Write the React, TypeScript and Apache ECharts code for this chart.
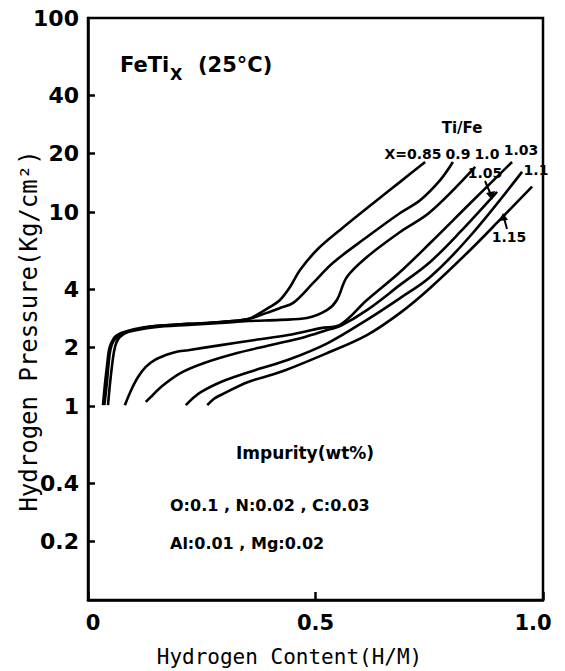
import React, { useEffect, useRef } from 'react';
import * as echarts from 'echarts';

// Hydrogen content (H/M) and pressure (kg/cm2) for each Ti/Fe ratio X
const h085 = [0.033, 0.037, 0.042, 0.046, 0.051, 0.059, 0.073, 0.088, 0.114, 0.147, 0.220, 0.292, 0.352, 0.371, 0.400, 0.422, 0.444, 0.466, 0.503, 0.554, 0.635, 0.686, 0.741];
const p085 = [1.01, 1.28, 1.63, 1.94, 2.11, 2.27, 2.38, 2.44, 2.52, 2.58, 2.65, 2.71, 2.81, 2.95, 3.24, 3.52, 4.11, 5.02, 6.37, 8.08, 11.5, 14.3, 18.1];

const h090 = [0.036, 0.041, 0.045, 0.049, 0.055, 0.064, 0.077, 0.092, 0.147, 0.220, 0.292, 0.352, 0.393, 0.422, 0.451, 0.495, 0.538, 0.613, 0.686, 0.730, 0.774, 0.802];
const p090 = [1.01, 1.28, 1.63, 1.94, 2.14, 2.27, 2.38, 2.44, 2.58, 2.65, 2.71, 2.81, 3.02, 3.20, 3.40, 4.31, 5.46, 7.43, 9.88, 11.5, 14.6, 18.1];

const h100 = [0.044, 0.048, 0.053, 0.057, 0.062, 0.070, 0.088, 0.147, 0.220, 0.292, 0.352, 0.422, 0.481, 0.525, 0.547, 0.569, 0.613, 0.686, 0.752, 0.851];
const p100 = [1.01, 1.28, 1.63, 1.90, 2.11, 2.27, 2.41, 2.55, 2.62, 2.68, 2.74, 2.78, 2.84, 3.12, 3.52, 4.62, 5.86, 7.89, 10.0, 17.1];

const h103 = [0.081, 0.095, 0.110, 0.127, 0.147, 0.171, 0.193, 0.220, 0.292, 0.367, 0.440, 0.512, 0.554, 0.613, 0.686, 0.752, 0.840, 0.932];
const p103 = [1.01, 1.21, 1.41, 1.59, 1.73, 1.83, 1.90, 1.94, 2.06, 2.19, 2.32, 2.52, 2.62, 3.52, 4.91, 6.92, 11.1, 18.1];

const h105 = [0.127, 0.141, 0.160, 0.204, 0.257, 0.330, 0.402, 0.477, 0.527, 0.554, 0.613, 0.686, 0.752, 0.818, 0.899];
const p105 = [1.05, 1.13, 1.25, 1.48, 1.67, 1.88, 2.06, 2.27, 2.47, 2.58, 3.12, 4.21, 5.53, 7.89, 12.7];

const h110 = [0.215, 0.231, 0.248, 0.292, 0.367, 0.440, 0.527, 0.613, 0.686, 0.752, 0.840, 0.954];
const p110 = [1.01, 1.10, 1.18, 1.33, 1.53, 1.73, 2.11, 2.78, 3.60, 4.62, 7.52, 16.1];

const h115 = [0.262, 0.277, 0.292, 0.352, 0.424, 0.527, 0.613, 0.686, 0.752, 0.840, 0.905, 0.976];
const p115 = [1.01, 1.09, 1.14, 1.33, 1.50, 1.88, 2.32, 3.02, 4.06, 6.37, 9.10, 13.5];

const curveNames = ['X=0.85', '0.9', '1.0', '1.03', '1.05', '1.1', '1.15'];
const curveH = [h085, h090, h100, h103, h105, h110, h115];
const curveP = [p085, p090, p100, p103, p105, p110, p115];

const yTickValues = [0.2, 0.4, 1, 2, 4, 10, 20, 40];
const yLabelValues = [0.2, 0.4, 1, 2, 4, 10, 20, 40, 100];
const xTickLabels = ['0', '0.5', '1.0'];

const FONT = "'DejaVu Sans', sans-serif";
const MONO = "'DejaVu Sans Mono', monospace";

function txt(text: string, x: number, y: number, size: number, align = 'center', extra: any = {}) {
  return {
    type: 'text',
    x,
    y,
    ...extra,
    style: {
      text,
      fill: '#000',
      font: `bold ${size}px ${FONT}`,
      align,
      verticalAlign: 'middle',
    },
  };
}

const labelRich = (pad: number[]) => ({
  color: '#000',
  fontFamily: FONT,
  fontWeight: 'bold',
  fontSize: 21,
  padding: pad,
});

export default function App() {
  const ref = useRef<HTMLDivElement>(null);

  useEffect(() => {
    if (!ref.current) return;
    const chart = echarts.init(ref.current, undefined, { renderer: 'svg' });

    const series = curveNames.map((name, i) => ({
      name,
      type: 'line',
      smooth: 0.35,
      showSymbol: false,
      lineStyle: { color: '#000', width: 2.6 },
      data: curveH[i].map((h, j) => [h, curveP[i][j]]),
    }));

    const option: any = {
      animation: false,
      backgroundColor: '#fff',
      grid: {
        left: 88,
        right: 22,
        top: 18,
        bottom: 71,
        containLabel: false,
        outerBoundsMode: 'none',
        show: true,
        borderColor: '#000',
        borderWidth: 2.5,
        backgroundColor: 'transparent',
      },
      xAxis: {
        type: 'value',
        min: 0,
        max: 1,
        interval: 0.5,
        axisLine: { show: true, lineStyle: { color: '#000', width: 2.5 } },
        axisTick: { show: true, inside: true, length: 8, lineStyle: { color: '#000', width: 2.5 } },
        axisLabel: {
          color: '#000',
          fontFamily: FONT,
          fontWeight: 'bold',
          fontSize: 21,
          margin: 12,
          formatter: (v: number) => {
            const i = Math.round(v / 0.5);
            const s = xTickLabels[i] ?? '';
            if (i === 0) return `{l|${s}}`;
            if (i === 2) return `{r|${s}}`;
            return s;
          },
          rich: {
            l: labelRich([0, 0, 0, 10]),
            r: labelRich([0, 20, 0, 0]),
          },
        },
        splitLine: { show: false },
        name: 'Hydrogen Content(H/M)',
        nameLocation: 'middle',
        nameGap: 46,
        nameMoveOverlap: false,
        nameTextStyle: {
          color: '#000',
          fontFamily: MONO,
          fontSize: 21,
          padding: [0, 52, 0, 0],
        },
      },
      yAxis: {
        type: 'log',
        logBase: 10,
        min: 0.1,
        max: 100,
        axisLine: { show: true, lineStyle: { color: '#000', width: 2.5 } },
        axisTick: {
          show: true,
          inside: true,
          length: 7,
          customValues: yTickValues,
          lineStyle: { color: '#000', width: 2.5 },
        },
        axisLabel: {
          customValues: yLabelValues,
          color: '#000',
          fontFamily: FONT,
          fontWeight: 'bold',
          fontSize: 22,
          margin: 9,
          formatter: (v: number) => {
            const r = Math.round(v * 10) / 10;
            return r < 1 ? r.toFixed(1) : String(Math.round(r));
          },
        },
        splitLine: { show: false },
        minorTick: { show: false },
        name: 'Hydrogen Pressure(Kg/cm²)',
        nameLocation: 'middle',
        nameGap: 47,
        nameMoveOverlap: false,
        nameTextStyle: {
          color: '#000',
          fontFamily: MONO,
          fontSize: 24,
          padding: [0, 44, 0, 0],
        },
      },
      series,
      graphic: [
        txt('FeTi', 120, 65, 21, 'left'),
        txt('X', 170, 74, 16, 'left'),
        txt('(25°C)', 198, 65, 21, 'left'),
        txt('Ti/Fe', 462, 128, 15),
        txt('X=0.85', 413, 154, 14),
        txt('0.9', 458, 154, 14),
        txt('1.0', 487, 154, 14),
        txt('1.03', 521, 150, 14),
        txt('1.05', 485, 173, 14),
        txt('1.1', 536, 170, 14),
        txt('1.15', 509, 237, 14),
        { type: 'line', shape: { x1: 485, y1: 181, x2: 491, y2: 195 }, style: { stroke: '#000', lineWidth: 2 } },
        { type: 'polygon', shape: { points: [[492, 200], [486, 193], [495, 191]] }, style: { fill: '#000' } },
        { type: 'line', shape: { x1: 507, y1: 229, x2: 504, y2: 218 }, style: { stroke: '#000', lineWidth: 2 } },
        { type: 'polygon', shape: { points: [[503, 213], [499, 221], [508, 220]] }, style: { fill: '#000' } },
        txt('Impurity(wt%)', 305, 453, 17),
        txt('O:0.1 , N:0.02 , C:0.03', 170, 505, 16, 'left'),
        txt('Al:0.01 , Mg:0.02', 170, 543, 16, 'left'),
      ],
    };

    chart.setOption(option);
    return () => chart.dispose();
  }, []);

  return (
    <div
      ref={ref}
      style={{ position: 'fixed', left: 0, top: 0, width: 565, height: 671, background: '#fff' }}
    />
  );
}
